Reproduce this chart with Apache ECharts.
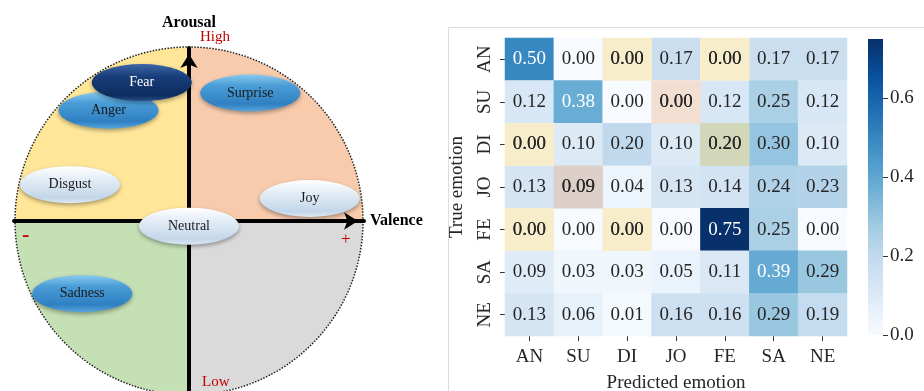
<!DOCTYPE html>
<html>
<head>
<meta charset="utf-8">
<script src="https://cdn.jsdelivr.net/npm/echarts@6/dist/echarts.min.js"></script>
<style>
  html, body { margin: 0; padding: 0; background: #fff; }
  #chart { width: 924px; height: 391px; }
</style>
</head>
<body>
<div id="chart"></div>
<script>
// ---- data: valence/arousal circumplex ----
const emotionNames = ['Anger', 'Fear', 'Surprise', 'Disgust', 'Joy', 'Neutral', 'Sadness'];
const emotionValence = [-0.46, -0.27, 0.35, -0.68, 0.69, 0.0, -0.61];
const emotionArousal = [0.64, 0.80, 0.74, 0.21, 0.13, -0.03, -0.42];
const quadrantShares = [1, 1, 1, 1]; // top-right, bottom-right, bottom-left, top-left

// ---- data: confusion matrix ----
const classes = ['AN', 'SU', 'DI', 'JO', 'FE', 'SA', 'NE'];
const rowAN = [0.50, 0.00, 0.00, 0.17, 0.00, 0.17, 0.17];
const rowSU = [0.12, 0.38, 0.00, 0.00, 0.12, 0.25, 0.12];
const rowDI = [0.00, 0.10, 0.20, 0.10, 0.20, 0.30, 0.10];
const rowJO = [0.13, 0.09, 0.04, 0.13, 0.14, 0.24, 0.23];
const rowFE = [0.00, 0.00, 0.00, 0.00, 0.75, 0.25, 0.00];
const rowSA = [0.09, 0.03, 0.03, 0.05, 0.11, 0.39, 0.29];
const rowNE = [0.13, 0.06, 0.01, 0.16, 0.16, 0.29, 0.19];
const matrix = [rowAN, rowSU, rowDI, rowJO, rowFE, rowSA, rowNE];
// highlighted cells [row, col]
const yellowCells = [[0, 2], [0, 4], [2, 0], [4, 0], [4, 2]];
const oliveCells = [[2, 4]];
const peachCells = [[1, 3]];
const brownCells = [[3, 1]];
const colorbarMax = 0.75;
const colorbarTicks = [0, 0.2, 0.4, 0.6];

const serif = '"Liberation Serif", "DejaVu Serif", serif';
const blues = ['#f7fbff', '#deebf7', '#c6dbef', '#9ecae1', '#6baed6', '#4292c6', '#2171b5', '#08519c', '#08306b'];

const grad = (stops) => ({
  type: 'linear', x: 0, y: 0, x2: 0, y2: 1,
  colorStops: stops.map(([offset, color]) => ({ offset, color }))
});
const tones = {
  dark: grad([[0, '#3D66A6'], [0.35, '#173C78'], [0.85, '#0E2D5F'], [1, '#2A4F8A']]),
  mid: grad([[0, '#8ACBEF'], [0.3, '#4A9DD6'], [0.8, '#2F80C2'], [1, '#5AA6DC']]),
  light: grad([[0, '#FFFFFF'], [0.35, '#E4EDF6'], [0.85, '#C3D6EA'], [1, '#DCE8F4']])
};
const toneByName = {
  Fear: 'dark', Anger: 'mid', Surprise: 'mid', Sadness: 'mid',
  Disgust: 'light', Joy: 'light', Neutral: 'light'
};

const emotionData = emotionNames.map((name, i) => ({
  name,
  value: [emotionValence[i], emotionArousal[i]],
  itemStyle: { color: tones[toneByName[name]] },
  label: { color: toneByName[name] === 'dark' ? '#fff' : '#1a1a1a' }
}));

const textColor = (v) => (v >= 0.35 ? '#ffffff' : '#262626');
const heatData = [];
matrix.forEach((row, r) => row.forEach((v, c) => {
  heatData.push({ value: [c, r, v], label: { color: textColor(v) } });
}));

const overlayData = [];
const addOverlay = (cells, color) => cells.forEach(([r, c]) => {
  overlayData.push({
    value: [c, r, matrix[r][c]],
    itemStyle: { color },
    label: { color: textColor(matrix[r][c]) }
  });
});
addOverlay(yellowCells, '#F8EDCA');
addOverlay(oliveCells, '#D3D7B9');
addOverlay(peachCells, '#F3DED2');
addOverlay(brownCells, '#DDD0C8');

const cellLabel = {
  show: true,
  fontFamily: serif,
  fontSize: 19,
  formatter: (p) => p.value[2].toFixed(2)
};

const chart = echarts.init(document.getElementById('chart'));
chart.setOption({
  animation: false,
  backgroundColor: '#fff',
  grid: [
    { left: 14, top: 48, width: 350, height: 346, outerBoundsMode: 'none', containLabel: false },
    { left: 505, top: 38, width: 342, height: 298, outerBoundsMode: 'none', containLabel: false },
    { left: 868, top: 39, width: 15, height: 296, outerBoundsMode: 'none', containLabel: false }
  ],
  xAxis: [
    {
      gridIndex: 0, type: 'value', min: -1, max: 1, z: 3,
      axisLine: {
        onZero: true, symbol: ['none', 'arrow'], symbolSize: [13, 14], symbolOffset: [0, -6],
        lineStyle: { color: '#000', width: 4 }
      },
      axisTick: { show: false }, axisLabel: { show: false }, splitLine: { show: false },
      name: 'Valence', nameLocation: 'end', nameGap: 6,
      nameTextStyle: { fontFamily: serif, fontWeight: 'bold', fontSize: 16, color: '#000' }
    },
    {
      gridIndex: 1, type: 'category', data: classes,
      axisLine: { show: false },
      axisTick: { show: true, alignWithLabel: true, length: 5, lineStyle: { color: '#333' } },
      axisLabel: { fontFamily: serif, fontSize: 19, color: '#262626', margin: 12 },
      name: 'Predicted emotion', nameLocation: 'middle', nameGap: 38,
      nameTextStyle: { fontFamily: serif, fontSize: 19, color: '#262626' }
    },
    {
      gridIndex: 2, type: 'category', data: [''],
      axisLine: { show: false }, axisTick: { show: false }, axisLabel: { show: false }
    }
  ],
  yAxis: [
    {
      gridIndex: 0, type: 'value', min: -1, max: 1, z: 3,
      axisLine: {
        onZero: true, symbol: ['none', 'arrow'], symbolSize: [13, 14], symbolOffset: [0, -6],
        lineStyle: { color: '#000', width: 4 }
      },
      axisTick: { show: false }, axisLabel: { show: false }, splitLine: { show: false },
      name: 'Arousal', nameLocation: 'end', nameGap: 17,
      nameTextStyle: { fontFamily: serif, fontWeight: 'bold', fontSize: 16, color: '#000' }
    },
    {
      gridIndex: 1, type: 'category', data: classes, inverse: true,
      axisLine: { show: false },
      axisTick: { show: true, alignWithLabel: true, length: 5, lineStyle: { color: '#333' } },
      axisLabel: { fontFamily: serif, fontSize: 19, color: '#262626', rotate: 90, margin: 10 },
      name: 'True emotion', nameLocation: 'middle', nameGap: 38, nameRotate: 90,
      nameTextStyle: { fontFamily: serif, fontSize: 19, color: '#262626' }
    },
    {
      gridIndex: 2, type: 'value', min: 0, max: colorbarMax, position: 'right',
      axisLine: { show: false }, splitLine: { show: false },
      axisTick: { show: true, length: 5, customValues: colorbarTicks, lineStyle: { color: '#333' } },
      axisLabel: {
        fontFamily: serif, fontSize: 19, color: '#262626', margin: 7,
        customValues: colorbarTicks, formatter: (v) => v.toFixed(1)
      }
    }
  ],
  visualMap: {
    show: false, min: 0, max: colorbarMax, dimension: 2, seriesIndex: 2,
    inRange: { color: blues }
  },
  graphic: [
    {
      type: 'rect', silent: true, z: 0,
      shape: { x: 448.5, y: 27.5, width: 500, height: 400 },
      style: { fill: 'none', stroke: '#DDDDDD', lineWidth: 1 }
    },
    {
      type: 'circle', silent: true, z: 2,
      shape: { cx: 189, cy: 221, r: 174 },
      style: { fill: 'none', stroke: '#222', lineWidth: 1.5, lineDash: [1.5, 1.5] }
    },
    { type: 'text', x: 200, y: 37, z: 4, style: { text: 'High', fill: '#C00000', font: '15px ' + serif, verticalAlign: 'middle' } },
    { type: 'text', x: 202, y: 382, z: 4, style: { text: 'Low', fill: '#C00000', font: '15px ' + serif, verticalAlign: 'middle' } },
    { type: 'text', x: 341, y: 240, z: 4, style: { text: '+', fill: '#C00000', font: '17px ' + serif, verticalAlign: 'middle' } },
    { type: 'text', x: 22, y: 235, z: 4, style: { text: '-', fill: '#C00000', font: 'bold 22px ' + serif, verticalAlign: 'middle' } }
  ],
  series: [
    {
      type: 'pie', z: 1, silent: true,
      center: [189, 221], radius: 174, startAngle: 90, clockwise: true,
      label: { show: false }, labelLine: { show: false },
      emphasis: { disabled: true },
      data: quadrantShares.map((v) => ({ value: v })),
      color: ['#F8CBAD', '#DADADA', '#C5E0B4', '#FFE699']
    },
    {
      type: 'scatter', xAxisIndex: 0, yAxisIndex: 0, z: 5, silent: true,
      symbol: 'path://M0,18 A50,18 0 1,1 100,18 A50,18 0 1,1 0,18 Z',
      symbolSize: [100, 37],
      itemStyle: { shadowBlur: 4, shadowOffsetY: 2, shadowColor: 'rgba(0,0,0,0.35)', opacity: 1 },
      label: { show: true, position: 'inside', formatter: '{b}', fontFamily: serif, fontSize: 14 },
      data: emotionData
    },
    {
      type: 'heatmap', xAxisIndex: 1, yAxisIndex: 1,
      label: cellLabel, emphasis: { disabled: true },
      data: heatData
    },
    {
      type: 'heatmap', xAxisIndex: 1, yAxisIndex: 1,
      label: cellLabel, emphasis: { disabled: true },
      data: overlayData
    },
    {
      type: 'bar', xAxisIndex: 2, yAxisIndex: 2, barWidth: '100%', silent: true,
      itemStyle: {
        color: {
          type: 'linear', x: 0, y: 1, x2: 0, y2: 0,
          colorStops: blues.map((c, i) => ({ offset: i / (blues.length - 1), color: c }))
        }
      },
      data: [colorbarMax]
    }
  ]
});
</script>
</body>
</html>
